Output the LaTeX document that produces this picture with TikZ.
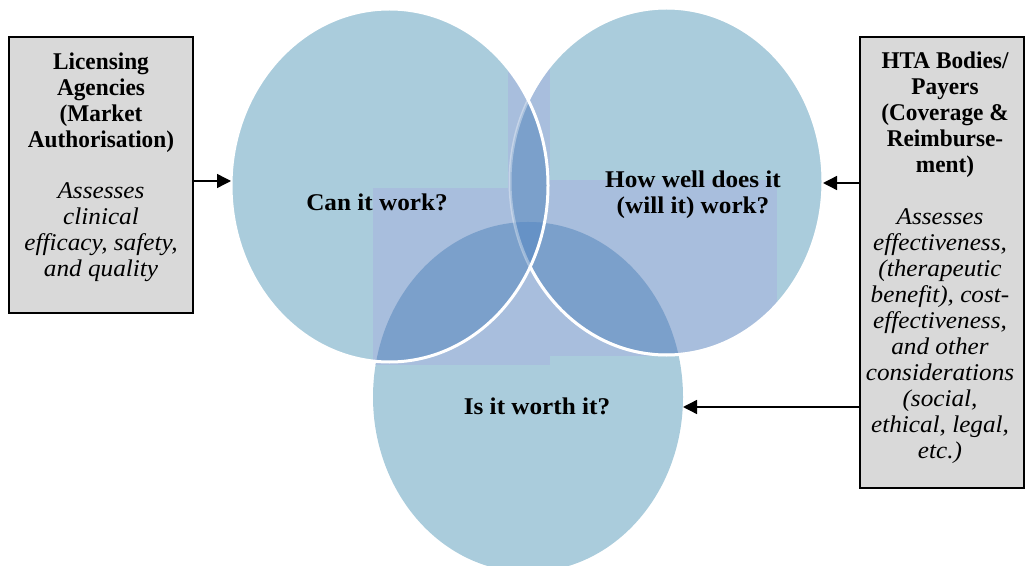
\documentclass[tikz,border=0pt]{standalone}
\usepackage{fontspec}
\setmainfont{Liberation Serif}[FakeStretch=1.05]
\newfontfamily\headfont{Liberation Serif}[FakeStretch=0.97]
\usetikzlibrary{arrows.meta}

\definecolor{vennblue}{HTML}{AACCDC}
\definecolor{tintblue}{HTML}{A8BEDD}
\definecolor{lensblue}{HTML}{7BA0CB}
\definecolor{coreblue}{HTML}{6692C6}
\definecolor{boxgray}{HTML}{D9D9D9}

\begin{document}
\begin{tikzpicture}[x=0.5pt,y=-0.5pt,
	question/.style={font=\fontsize{12}{13}\selectfont\bfseries, align=center, inner sep=0pt},
	panel/.style={draw, line width=1pt, fill=boxgray, inner sep=0pt},
	panelhead/.style={font=\fontsize{12}{13}\selectfont\headfont\bfseries, align=center, inner sep=0pt, anchor=north},
	panelbody/.style={font=\fontsize{12}{13}\selectfont\itshape, align=center, inner sep=0pt, anchor=north},
	feed/.style={-{Triangle[length=7pt,width=7pt]}, line width=0.7pt}]
	
	\useasboundingbox (0,0) rectangle (1026,566);
	
	%--- Centres and radii of the three circles ---
	\coordinate (cL) at (389.5,185.5); \def\rxL{158.5} \def\ryL{176.5} % can it work
	\coordinate (cR) at (666.5,181.5); \def\rxR{156.5} \def\ryR{173.5} % how well
	\coordinate (cB) at (528,397);     \def\rxB{155}   \def\ryB{175}   % worth it
	
	%--- Plain fill ---
	\fill[vennblue] (cB) ellipse [x radius=\rxB, y radius=\ryB];
	\fill[vennblue] (cR) ellipse [x radius=\rxR, y radius=\ryR];
	\fill[vennblue] (cL) ellipse [x radius=\rxL, y radius=\ryL];
	
	%--- Tinted panels, only inside the circles ---
	\begin{scope}
		\clip (cB) ellipse [x radius=\rxB, y radius=\ryB]
		(cR) ellipse [x radius=\rxR, y radius=\ryR]
		(cL) ellipse [x radius=\rxL, y radius=\ryL];
		\fill[tintblue] (373,188) rectangle (550,365);
		\fill[tintblue] (550,180) rectangle (777,356);
		\fill[tintblue] (508,60) rectangle (550,188);
	\end{scope}
	
	%--- Overlaps ---
	\begin{scope}
		\clip (cL) ellipse [x radius=\rxL, y radius=\ryL];
		\fill[lensblue] (cR) ellipse [x radius=\rxR, y radius=\ryR];
		\fill[lensblue] (cB) ellipse [x radius=\rxB, y radius=\ryB];
		\clip (cR) ellipse [x radius=\rxR, y radius=\ryR];
		\fill[coreblue] (cB) ellipse [x radius=\rxB, y radius=\ryB];
	\end{scope}
	\begin{scope}
		\clip (cR) ellipse [x radius=\rxR, y radius=\ryR];
		\fill[lensblue] (cB) ellipse [x radius=\rxB, y radius=\ryB];
		\clip (cL) ellipse [x radius=\rxL, y radius=\ryL];
		\fill[coreblue] (cB) ellipse [x radius=\rxB, y radius=\ryB];
	\end{scope}
	
	%--- White rims ---
	\draw[white, opacity=0.35, line width=1.5pt] (cR) ellipse [x radius=\rxR, y radius=\ryR];
	\begin{scope}[even odd rule]
		\clip (-20,-20) rectangle (1050,600)
		(cL) ellipse [x radius=\rxL, y radius=\ryL];
		\draw[white, line width=1.5pt] (cR) ellipse [x radius=\rxR, y radius=\ryR];
	\end{scope}
	\draw[white, line width=1.5pt] (cL) ellipse [x radius=\rxL, y radius=\ryL];
	
	%--- Questions ---
	\node[question] (canwork) at (377,202) {Can it work?};
	\node[question] (howwell) at (693,195) {How well does it\\(will it) work?};
	\node[question] (worth) at (537,406) {Is it worth it?};
	
	%--- Side panels ---
	\node[panel, minimum width=92pt, minimum height=138pt] (lic) at (101,175) {};
	\node[panelhead] (lichead) at (101,52) {Licensing\\Agencies\\(Market\\Authorisation)};
	\node[panelbody] (licbody) at (101,182) {Assesses\\clinical\\efficacy, safety,\\and quality};
	
	\node[panel, minimum width=82pt, minimum height=225.5pt] (hta) at (942,262.5) {};
	\node[panelhead] (htahead) at (945,51.5) {HTA Bodies/\\Payers\\(Coverage \&\\Reimburse-\\ment)};
	\node[panelbody] (htabody) at (940,208) {Assesses\\effectiveness,\\(therapeutic\\benefit), cost-\\effectiveness,\\and other\\considerations\\(social,\\ethical, legal,\\etc.)};
	
	%--- Arrows into the circles ---
	\coordinate (lin) at (231,181);
	\coordinate (rin) at (823,183);
	\coordinate (bin) at (683,407);
	\draw[feed] (lic.east |- lin) -- (lin);
	\draw[feed] (hta.west |- rin) -- (rin);
	\draw[feed] (hta.west |- bin) -- (bin);
	
\end{tikzpicture}
\end{document}
